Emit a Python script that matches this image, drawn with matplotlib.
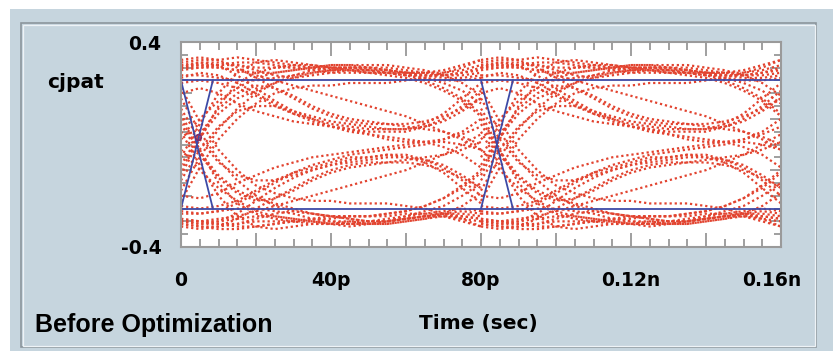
import matplotlib
matplotlib.use("Agg")
from matplotlib import pyplot as plt
from matplotlib.patches import Rectangle
from matplotlib.transforms import ScaledTranslation

# one 80 ps window of the eye (ps); drawn twice, once per UI on screen
window_t = [0, 5, 10, 15, 20, 25, 30, 35, 40, 45, 50, 55, 60, 65, 70, 75, 80]
ui_offsets = [0, 80]

upper_traces = [
    [0.32, 0.33, 0.33, 0.34, 0.33, 0.32, 0.31, 0.30, 0.30, 0.30, 0.30, 0.29, 0.28, 0.27, 0.27, 0.28, 0.30],
    [0.27, 0.27, 0.26, 0.25, 0.25, 0.26, 0.27, 0.29, 0.30, 0.30, 0.30, 0.29, 0.28, 0.27, 0.26, 0.26, 0.27],
    [-0.12, 0.02, 0.15, 0.24, 0.28, 0.30, 0.31, 0.31, 0.30, 0.30, 0.29, 0.29, 0.28, 0.28, 0.28, 0.29, 0.31],
    [-0.18, -0.05, 0.06, 0.14, 0.20, 0.24, 0.27, 0.28, 0.29, 0.29, 0.28, 0.28, 0.27, 0.25, 0.22, 0.18, 0.12],
    [-0.22, -0.09, 0.02, 0.10, 0.16, 0.20, 0.22, 0.23, 0.23, 0.24, 0.24, 0.24, 0.25, 0.26, 0.28, 0.30, 0.33],
    [0.30, 0.32, 0.31, 0.27, 0.22, 0.17, 0.13, 0.10, 0.07, 0.06, 0.05, 0.05, 0.05, 0.07, 0.10, 0.15, 0.21],
    [0.26, 0.28, 0.27, 0.24, 0.20, 0.16, 0.12, 0.09, 0.07, 0.05, 0.04, 0.03, 0.02, 0.01, -0.01, -0.04, -0.09],
    [-0.14, -0.02, 0.07, 0.13, 0.15, 0.15, 0.13, 0.11, 0.09, 0.08, 0.07, 0.06, 0.06, 0.07, 0.09, 0.13, 0.18],
    [0.31, 0.31, 0.31, 0.31, 0.30, 0.30, 0.30, 0.30, 0.29, 0.29, 0.28, 0.27, 0.26, 0.24, 0.21, 0.17, 0.11],
    [0.30, 0.31, 0.30, 0.29, 0.27, 0.25, 0.23, 0.21, 0.19, 0.17, 0.15, 0.13, 0.11, 0.08, 0.05, 0.02, -0.02],
    [0.33, 0.34, 0.33, 0.30, 0.26, 0.22, 0.18, 0.14, 0.11, 0.09, 0.08, 0.08, 0.08, 0.09, 0.11, 0.14, 0.18],
    [-0.08, 0.04, 0.14, 0.20, 0.23, 0.22, 0.19, 0.15, 0.12, 0.10, 0.09, 0.08, 0.07, 0.06, 0.05, 0.03, 0.00],
    [0.30, 0.30, 0.31, 0.32, 0.32, 0.31, 0.30, 0.29, 0.28, 0.28, 0.28, 0.28, 0.27, 0.27, 0.27, 0.28, 0.29],
    [-0.05, 0.08, 0.20, 0.28, 0.32, 0.33, 0.32, 0.31, 0.30, 0.29, 0.29, 0.28, 0.28, 0.28, 0.29, 0.31, 0.33],
    [0.29, 0.30, 0.30, 0.29, 0.28, 0.28, 0.29, 0.30, 0.31, 0.31, 0.30, 0.29, 0.28, 0.26, 0.24, 0.21, 0.16],
    [0.24, 0.25, 0.24, 0.22, 0.19, 0.15, 0.12, 0.10, 0.08, 0.07, 0.06, 0.06, 0.06, 0.08, 0.12, 0.18, 0.24],
    [-0.10, 0.03, 0.12, 0.18, 0.21, 0.24, 0.26, 0.28, 0.29, 0.30, 0.30, 0.30, 0.29, 0.28, 0.27, 0.27, 0.28],
    [0.20, 0.22, 0.20, 0.16, 0.13, 0.11, 0.09, 0.08, 0.07, 0.06, 0.04, 0.02, 0.01, 0.01, 0.02, 0.04, 0.07],
    [0.31, 0.32, 0.32, 0.31, 0.29, 0.27, 0.26, 0.27, 0.28, 0.29, 0.29, 0.28, 0.27, 0.26, 0.25, 0.25, 0.26],
    [0.02, 0.10, 0.17, 0.22, 0.26, 0.28, 0.29, 0.30, 0.31, 0.31, 0.31, 0.31, 0.30, 0.29, 0.27, 0.24, 0.19],
]

lower_traces = [
    [-0.31, -0.32, -0.33, -0.33, -0.32, -0.31, -0.30, -0.30, -0.30, -0.30, -0.31, -0.31, -0.30, -0.29, -0.28, -0.28, -0.29],
    [-0.27, -0.27, -0.26, -0.25, -0.25, -0.26, -0.27, -0.29, -0.30, -0.31, -0.31, -0.30, -0.29, -0.28, -0.27, -0.26, -0.27],
    [0.12, -0.02, -0.15, -0.23, -0.27, -0.29, -0.30, -0.31, -0.31, -0.31, -0.30, -0.30, -0.29, -0.28, -0.28, -0.29, -0.30],
    [0.18, 0.05, -0.06, -0.14, -0.20, -0.24, -0.26, -0.27, -0.28, -0.28, -0.28, -0.27, -0.26, -0.24, -0.21, -0.17, -0.11],
    [0.22, 0.09, -0.02, -0.10, -0.16, -0.19, -0.21, -0.22, -0.22, -0.23, -0.23, -0.23, -0.24, -0.25, -0.27, -0.29, -0.32],
    [-0.30, -0.31, -0.30, -0.27, -0.22, -0.17, -0.13, -0.10, -0.08, -0.06, -0.05, -0.04, -0.04, -0.06, -0.09, -0.14, -0.20],
    [-0.26, -0.27, -0.26, -0.23, -0.19, -0.15, -0.11, -0.08, -0.06, -0.04, -0.03, -0.02, -0.01, 0.00, 0.02, 0.05, 0.10],
    [0.14, 0.02, -0.07, -0.12, -0.14, -0.14, -0.12, -0.10, -0.08, -0.07, -0.06, -0.05, -0.05, -0.06, -0.08, -0.12, -0.17],
    [-0.30, -0.31, -0.31, -0.31, -0.30, -0.30, -0.30, -0.29, -0.29, -0.28, -0.28, -0.27, -0.26, -0.24, -0.21, -0.16, -0.10],
    [-0.29, -0.30, -0.29, -0.28, -0.26, -0.24, -0.22, -0.20, -0.18, -0.16, -0.14, -0.12, -0.10, -0.07, -0.04, 0.00, 0.04],
    [-0.32, -0.33, -0.32, -0.29, -0.25, -0.21, -0.17, -0.13, -0.10, -0.08, -0.07, -0.07, -0.07, -0.08, -0.10, -0.13, -0.17],
    [0.08, -0.04, -0.13, -0.19, -0.22, -0.21, -0.18, -0.14, -0.11, -0.09, -0.08, -0.07, -0.06, -0.05, -0.04, -0.02, 0.01],
    [-0.30, -0.30, -0.31, -0.32, -0.32, -0.31, -0.30, -0.29, -0.28, -0.28, -0.28, -0.28, -0.27, -0.27, -0.27, -0.28, -0.29],
    [0.05, -0.08, -0.20, -0.28, -0.32, -0.33, -0.32, -0.31, -0.31, -0.30, -0.30, -0.30, -0.29, -0.28, -0.28, -0.30, -0.32],
    [-0.29, -0.30, -0.30, -0.29, -0.28, -0.28, -0.29, -0.30, -0.31, -0.32, -0.31, -0.30, -0.28, -0.26, -0.24, -0.20, -0.15],
    [-0.24, -0.25, -0.24, -0.22, -0.18, -0.14, -0.11, -0.09, -0.07, -0.05, -0.05, -0.04, -0.05, -0.07, -0.11, -0.17, -0.23],
    [0.10, -0.03, -0.12, -0.18, -0.21, -0.23, -0.25, -0.27, -0.28, -0.29, -0.30, -0.30, -0.29, -0.28, -0.27, -0.27, -0.28],
    [-0.20, -0.21, -0.19, -0.15, -0.12, -0.09, -0.07, -0.05, -0.04, -0.03, -0.02, -0.01, 0.00, 0.01, 0.01, 0.00, -0.02],
    [-0.31, -0.32, -0.32, -0.31, -0.29, -0.27, -0.26, -0.27, -0.28, -0.29, -0.30, -0.29, -0.28, -0.27, -0.26, -0.25, -0.26],
    [-0.02, -0.10, -0.17, -0.22, -0.26, -0.28, -0.29, -0.30, -0.31, -0.31, -0.31, -0.31, -0.30, -0.29, -0.27, -0.24, -0.19],
]

# eye mask: rails and the two X's at the crossings
mask_level = 0.25
mask_x_start = [0, 80]
mask_x_end = [8.5, 88.5]
crossing_marker = (4.5, 0.03)

xticks = [0, 20, 40, 60, 80, 100, 120, 140, 160]
xtick_labels = ["0", "", "40p", "", "80p", "", "0.12n", "", "0.16n"]
yticks = [-0.4, -0.3, -0.2, -0.1, 0.0, 0.1, 0.2, 0.3, 0.4]
ytick_labels = ["-0.4", "", "", "", "", "", "", "", "0.4"]

PANEL = "#c6d5de"
RED = "#e2432f"
BLUE = "#3d4aa6"
GREY = "#8f8f8f"

W, H = 833, 351
fig = plt.figure(figsize=(W / 100, H / 100), dpi=100)
fig.patch.set_facecolor("white")

# background panel and etched frame
fig.patches.append(Rectangle((10 / W, 0), 1, (H - 9) / H, transform=fig.transFigure,
                             facecolor=PANEL, edgecolor="none", zorder=-3))
fig.patches.append(Rectangle((21 / W, 4 / H), 795 / W, 324 / H, transform=fig.transFigure,
                             facecolor="none", edgecolor="#8c969d", lw=1.2, zorder=-2))
fig.patches.append(Rectangle((22.5 / W, 5.5 / H), 792 / W, 321 / H, transform=fig.transFigure,
                             facecolor="none", edgecolor="#eef3f6", lw=0.9, zorder=-2))

ax = fig.add_axes([181 / W, 1 - 247 / H, 600 / W, 205 / H])
ax.set_facecolor("white")

for off in ui_offsets:
    t = [v + off for v in window_t]
    for tr in upper_traces + lower_traces:
        ax.plot(t, tr, color=RED, lw=1.6, linestyle=(0, (1, 1.3)), solid_capstyle="butt")

ax.axhline(mask_level, color=BLUE, lw=1.3)
ax.axhline(-mask_level, color=BLUE, lw=1.3)
for t0, t1 in zip(mask_x_start, mask_x_end):
    ax.plot([t0, t1], [mask_level, -mask_level], color=BLUE, lw=1.3)
    ax.plot([t0, t1], [-mask_level, mask_level], color=BLUE, lw=1.3)
ax.plot(*crossing_marker, marker="o", ms=4, mfc="none", mec="#7b2c6e", mew=1.2)

ax.set_xlim(0, 160)
ax.set_ylim(-0.4, 0.4)
ax.set_xticks(xticks)
ax.set_xticklabels(xtick_labels)
ax.set_xticks(range(0, 161, 5), minor=True)
ax.set_yticks(yticks)
ax.set_yticklabels(ytick_labels)
ax.set_yticks([v / 100 for v in range(-40, 41, 5)], minor=True)

ax.tick_params(which="both", direction="in", top=True, right=True, color=GREY, width=1.2)
ax.tick_params(axis="x", which="major", length=10, pad=17, labelsize=13.5)
ax.tick_params(axis="x", which="minor", length=5.5)
ax.tick_params(axis="y", which="major", length=8, pad=14, labelsize=13.5)
ax.tick_params(axis="y", which="minor", length=5)
for lab in ax.get_xticklabels() + ax.get_yticklabels():
    lab.set_fontweight("bold")
ax.get_xticklabels()[-1].set_transform(
    ax.get_xticklabels()[-1].get_transform() + ScaledTranslation(-9 / 100, 0, fig.dpi_scale_trans))
for s in ax.spines.values():
    s.set_color("#9a9a9a")
    s.set_linewidth(1.5)

fig.text(75 / W, 1 - 83 / H, "cjpat", ha="center", va="center", fontsize=14.5, fontweight="bold")
fig.text(478 / W, 1 - 324 / H, "Time (sec)", ha="center", va="center", fontsize=14.5, fontweight="bold")
fig.text(35 / W, 1 - 325 / H, "Before Optimization", ha="left", va="center", fontsize=18,
         fontweight="bold", family="Liberation Sans")

fig.savefig("out.png", dpi=100)
